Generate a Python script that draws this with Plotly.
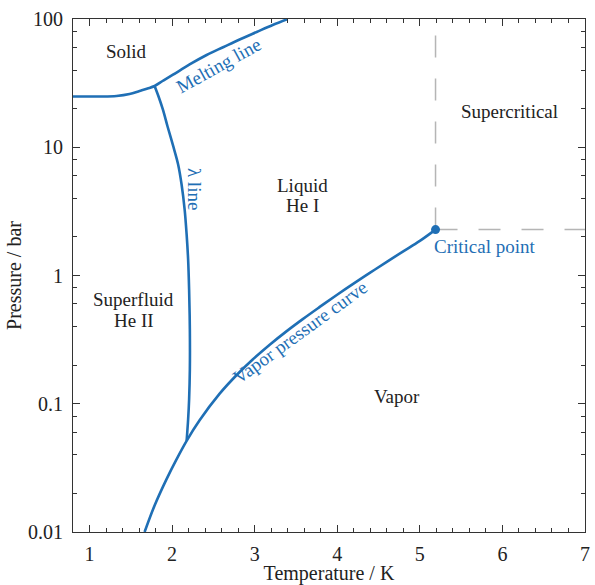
import plotly.graph_objects as go

# ---- data ----
melt_T = [0.8, 1.121, 1.327, 1.485, 1.606, 1.703, 1.788, 1.885, 2.006, 2.212,
          2.418, 2.624, 2.818, 3.024, 3.218, 3.40]
melt_P = [24.87, 24.87, 25.1, 26.0, 27.46, 28.72, 30.04, 32.86, 36.6, 44.2,
          52.4, 60.5, 69.2, 79.2, 89.8, 100.0]

lambda_T = [1.788, 1.836, 1.888, 1.945, 2.018, 2.073, 2.115, 2.152, 2.176, 2.194,
            2.206, 2.215, 2.215, 2.206, 2.194, 2.176]
lambda_P = [30.04, 24.87, 19.7, 14.52, 9.96, 7.34, 5.12, 3.27, 2.09, 1.333,
            0.778, 0.379, 0.185, 0.108, 0.0754, 0.0514]

vapor_T = [1.667, 1.788, 1.933, 2.055, 2.176, 2.333, 2.576, 2.782, 2.976, 3.182,
           3.388, 3.582, 3.788, 3.994, 4.188, 4.394, 4.6, 4.794, 5.0, 5.19]
vapor_P = [0.01, 0.01609, 0.02585, 0.03701, 0.0514, 0.0743, 0.1198, 0.1675, 0.2213, 0.2887,
           0.3685, 0.4571, 0.569, 0.7047, 0.8568, 1.0478, 1.2789, 1.5361, 1.8614, 2.28]

crit_T = 5.19
crit_P = 2.28

x_ticks = [1, 2, 3, 4, 5, 6, 7]
y_ticks = [0.01, 0.1, 1, 10, 100]
y_ticktext = ["0.01", "0.1", "1", "10", "100"]

x_range = [0.8, 7]
y_max = 100

BLUE = "#1f6fb5"
TXT = "#222222"
FONT = "Liberation Serif"

fig = go.Figure()

# dashed guide lines from the critical point
fig.add_trace(go.Scatter(x=[crit_T, crit_T], y=[crit_P, y_max], mode="lines",
                         line=dict(color="#b5b5b5", width=1.5, dash="22px,21px"),
                         hoverinfo="skip", showlegend=False))
fig.add_trace(go.Scatter(x=[crit_T, x_range[1]], y=[crit_P, crit_P], mode="lines",
                         line=dict(color="#b5b5b5", width=1.5, dash="22px,21px"),
                         hoverinfo="skip", showlegend=False))

for T, P in [(melt_T, melt_P), (lambda_T, lambda_P), (vapor_T, vapor_P)]:
    fig.add_trace(go.Scatter(x=T, y=P, mode="lines",
                             line=dict(color=BLUE, width=2.6, shape="spline", smoothing=1.0),
                             showlegend=False, cliponaxis=True))

fig.add_trace(go.Scatter(x=[crit_T], y=[crit_P], mode="markers",
                         marker=dict(color=BLUE, size=9), showlegend=False))

def ann(text, x, logy, color=TXT, angle=0, xanchor="center", size=19):
    fig.add_annotation(text=text, x=x, y=logy, xref="x", yref="y", showarrow=False,
                       textangle=angle, xanchor=xanchor, yanchor="middle",
                       font=dict(family=FONT, size=size, color=color))

ann("Solid", 1.448, 1.747)
ann("Melting line", 2.564, 1.637, color=BLUE, angle=-29)
ann("λ line", 2.273, 0.678, color=BLUE, angle=90)
ann("Liquid", 3.583, 0.702)
ann("He I", 3.583, 0.546)
ann("Supercritical", 6.09, 1.279)
ann("Superfluid", 1.533, -0.187)
ann("He II", 1.533, -0.351)
ann("Vapor pressure curve", 3.545, -0.444, color=BLUE, angle=-36)
ann("Vapor", 4.72, -0.943)
ann("Critical point", 5.145, 0.226, color=BLUE, xanchor="left")

axis_common = dict(
    showline=True, linecolor="#333333", linewidth=1.2, mirror="ticks",
    ticks="inside", ticklen=7, tickwidth=1, tickcolor="#333333",
    showgrid=False, zeroline=False, automargin=False,
    tickfont=dict(family=FONT, size=20, color=TXT),
)

fig.update_xaxes(range=x_range, tickvals=x_ticks,
                 title=dict(text="Temperature / K", font=dict(family=FONT, size=20, color=TXT), standoff=4),
                 minor=dict(dtick=0.2, ticks="inside", ticklen=4, tickcolor="#333333"),
                 ticklabelstandoff=4,
                 **axis_common)
minor_y = [m * 10 ** e for e in range(-2, 2) for m in (2, 4, 6, 8)]
fig.update_yaxes(type="log", range=[-2, 2], tickvals=y_ticks, ticktext=y_ticktext,
                 title=dict(text="Pressure / bar", font=dict(family=FONT, size=20, color=TXT), standoff=0),
                 minor=dict(tickvals=minor_y, ticks="inside", ticklen=4, tickcolor="#333333"),
                 ticklabelstandoff=5,
                 **axis_common)

fig.update_layout(width=595, height=585, margin=dict(l=73, r=10, t=19, b=53),
                  plot_bgcolor="white", paper_bgcolor="white",
                  font=dict(family=FONT, color=TXT))

fig.write_html("out.html", config={"displayModeBar": False},
               post_script="document.body.style.margin='0px';")
